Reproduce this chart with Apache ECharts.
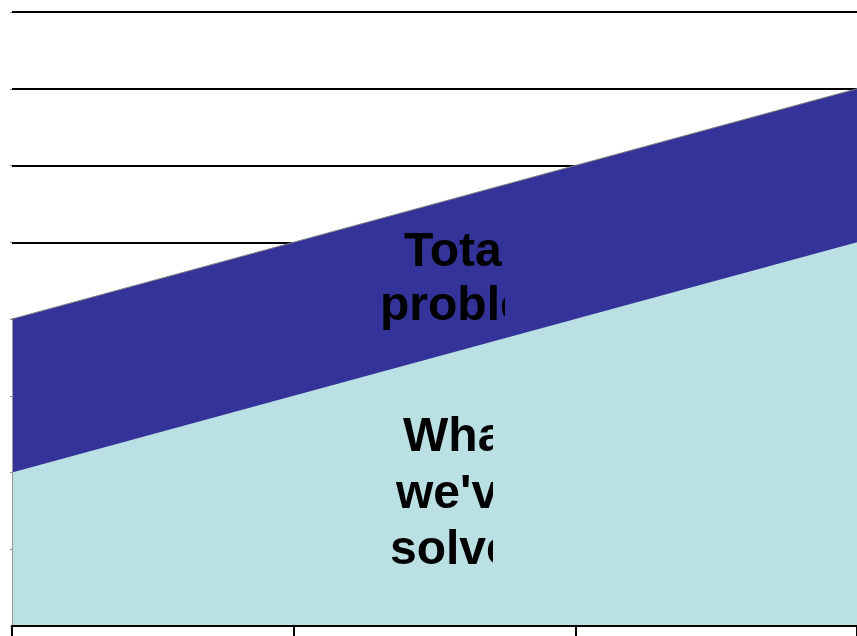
<!DOCTYPE html>
<html>
<head>
<meta charset="utf-8">
<script src="https://cdn.jsdelivr.net/npm/echarts@6/dist/echarts.min.js"></script>
<style>
  html, body { margin: 0; padding: 0; background: #ffffff; }
  #chart { width: 857px; height: 636px; }
</style>
</head>
<body>
<div id="chart"></div>
<script>
// Periods along the horizontal axis (labels not shown)
const periods = ['P1', 'P2', 'P3', 'P4'];
// Size of the whole problem in each period
const totalProblem = [4, 5, 6, 7];
// Portion already solved in each period
const solved = [2, 3, 4, 5];
// Value scale
const yMin = 0;
const yMax = 8;
const yStep = 1;

const chart = echarts.init(document.getElementById('chart'), null, { renderer: 'canvas' });

chart.setOption({
  animation: false,
  backgroundColor: '#ffffff',
  grid: { left: 12, right: -3, top: 12, bottom: 10, containLabel: false },
  xAxis: {
    type: 'category',
    data: periods,
    boundaryGap: false,
    axisLine: { show: true, lineStyle: { color: '#000000', width: 2 } },
    axisTick: { show: true, length: 10, lineStyle: { color: '#000000', width: 2 } },
    axisLabel: { show: false },
    splitLine: { show: false },
    z: 5
  },
  yAxis: {
    type: 'value',
    min: yMin,
    max: yMax,
    interval: yStep,
    axisLine: { show: false },
    axisTick: { show: true, length: 2, lineStyle: { color: '#888888', width: 1 } },
    axisLabel: { show: false },
    splitLine: { show: true, lineStyle: { color: '#000000', width: 2 } }
  },
  series: [
    {
      name: 'Total problem',
      type: 'line',
      data: totalProblem,
      symbol: 'none',
      lineStyle: { color: '#808080', width: 1 },
      areaStyle: { color: '#333399', opacity: 1 },
      markLine: {
        silent: true,
        symbol: 'none',
        label: { show: false },
        lineStyle: { color: '#999999', width: 1, type: 'solid' },
        data: [[{ coord: [periods[0], yMin] }, { coord: [periods[0], totalProblem[0]] }]]
      },
      z: 2
    },
    {
      name: "What we've solved",
      type: 'line',
      data: solved,
      symbol: 'none',
      lineStyle: { width: 0 },
      areaStyle: { color: '#BBE0E3', opacity: 1 },
      z: 3
    }
  ]
});

// Bold captions inside each band, cut off at the right edge of their text boxes
const captionFont = 'bold 48px "Liberation Sans", Arial, sans-serif';
function addCaption(lines, clipRight) {
  const group = new echarts.graphic.Group();
  lines.forEach(function (ln) {
    group.add(new echarts.graphic.Text({
      style: {
        text: ln.text,
        x: ln.x,
        y: ln.y,
        font: captionFont,
        fill: '#000000',
        align: 'left',
        verticalAlign: 'top'
      },
      z: 100
    }));
  });
  group.setClipPath(new echarts.graphic.Rect({
    shape: { x: 0, y: 0, width: clipRight, height: 636 }
  }));
  chart.getZr().add(group);
}

addCaption([
  { text: 'Total', x: 404, y: 229 },
  { text: 'problem', x: 380, y: 283 }
], 505);

addCaption([
  { text: 'What', x: 403, y: 414 },
  { text: "we've", x: 396, y: 471 },
  { text: 'solved', x: 390, y: 527 }
], 493);
</script>
</body>
</html>
